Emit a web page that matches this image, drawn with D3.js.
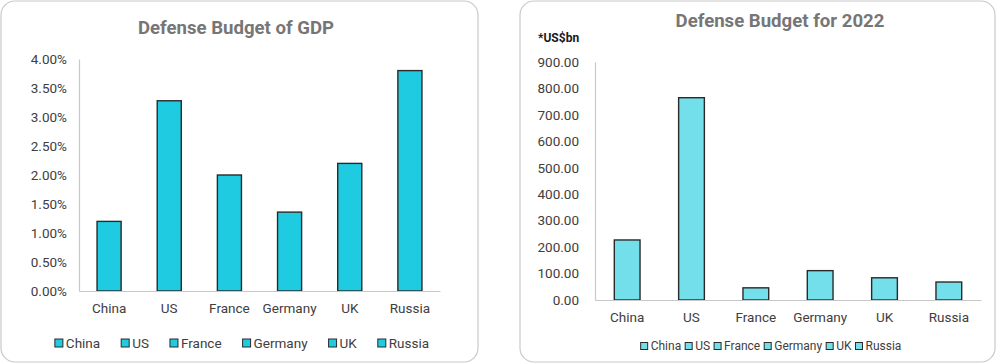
<!DOCTYPE html>
<html><head><meta charset="utf-8">
<script src="https://cdn.jsdelivr.net/npm/d3@7"></script>
<style>
body{margin:0;background:#fff;}
svg{display:block;font-family:Roboto,"Liberation Sans",sans-serif;}
</style></head>
<body><svg id="c" width="997" height="364"></svg>
<script>
const categories = ["China","US","France","Germany","UK","Russia"];
const gdpShare = [0.0120,0.0328,0.0200,0.0136,0.0220,0.0380];
const gdpTicks = [0,0.005,0.01,0.015,0.02,0.025,0.03,0.035,0.04];
const budget2022 = [227,765,46,111,84,68];
const budgetTicks = [0,100,200,300,400,500,600,700,800,900];

const svg = d3.select("#c");

function panel(o){
  const g = svg.append("g");
  g.append("rect").attr("x",o.px).attr("y",o.py).attr("width",o.pw).attr("height",o.ph)
    .attr("rx",14).attr("fill","#fff").attr("stroke","#c9c9c9").attr("stroke-width",1.2);
  g.append("text").attr("x",o.tx).attr("y",o.ty).attr("text-anchor","middle")
    .attr("font-size",18.6).attr("font-weight","bold").attr("fill","#767676").text(o.title);
  const x = d3.scaleBand().domain(categories).range([o.x0,o.x1]).paddingInner(0.6).paddingOuter(0.3);
  const y = d3.scaleLinear().domain(o.domain).range([o.y0,o.y1]);
  const ya = g.append("g").attr("transform",`translate(${o.x0},0)`)
    .call(d3.axisLeft(y).tickValues(o.ticks).tickFormat(o.fmt).tickSize(0).tickPadding(o.tickPad));
  ya.select(".domain").attr("stroke","#c8c8c8").attr("stroke-width",1.2);
  ya.selectAll("text").attr("font-size",13.5).attr("fill","#404040").attr("font-family","Roboto");
  g.selectAll("rect.bar").data(o.values).join("rect").attr("class","bar")
    .attr("x",(d,i)=>x(categories[i])).attr("width",x.bandwidth())
    .attr("y",d=>y(d)).attr("height",d=>y(0)-y(d))
    .attr("fill",o.color).attr("stroke","#2a2a2a").attr("stroke-width",1.4);
  const xa = g.append("g").attr("transform",`translate(0,${o.y0})`)
    .call(d3.axisBottom(x).tickSize(0).tickPadding(o.xPad));
  xa.select(".domain").attr("stroke","#c8c8c8").attr("stroke-width",1.2);
  xa.selectAll("text").attr("font-size",13.5).attr("fill","#404040").attr("font-family","Roboto");
  const lg = g.append("g");
  const items = lg.selectAll("g").data(categories).join("g");
  items.append("rect").attr("width",o.sw).attr("height",o.sw).attr("y",-o.sw/2)
    .attr("fill",o.color).attr("stroke","#2a2a2a").attr("stroke-width",1);
  items.append("text").attr("x",o.sw+3).attr("dy","0.36em").attr("font-size",o.lfs)
    .attr("fill","#404040").text(d=>d);
  let cx = 0; const pos=[];
  items.each(function(){ const w=d3.select(this).select("text").node().getComputedTextLength()+o.sw+3; pos.push(cx); cx+=w+o.gap; });
  const total = cx - o.gap;
  items.attr("transform",(d,i)=>`translate(${o.lcx-total/2+pos[i]},${o.ly})`);
  return g;
}

panel({px:1,py:1,pw:477,ph:361,tx:236,ty:34,title:"Defense Budget of GDP",
  x0:79,x1:440,y0:291,y1:59,domain:[0,0.04],ticks:gdpTicks,fmt:d3.format(".2%"),tickPad:12,xPad:12,
  values:gdpShare,color:"#1ecbe1",sw:8,lfs:13.5,gap:21,lcx:242,ly:343});

const p2 = panel({px:520,py:1,pw:475,ph:361,tx:780,ty:27,title:"Defense Budget for 2022",
  x0:595,x1:981,y0:300,y1:62,domain:[0,900],ticks:budgetTicks,fmt:d3.format(".2f"),tickPad:16,xPad:12,
  values:budget2022,color:"#72dfea",sw:7,lfs:12,gap:4,lcx:771,ly:346});
p2.append("text").attr("x",538).attr("y",42).attr("font-size",12).attr("font-weight","bold")
  .attr("fill","#1a1a1a").text("*US$bn");
</script></body></html>
